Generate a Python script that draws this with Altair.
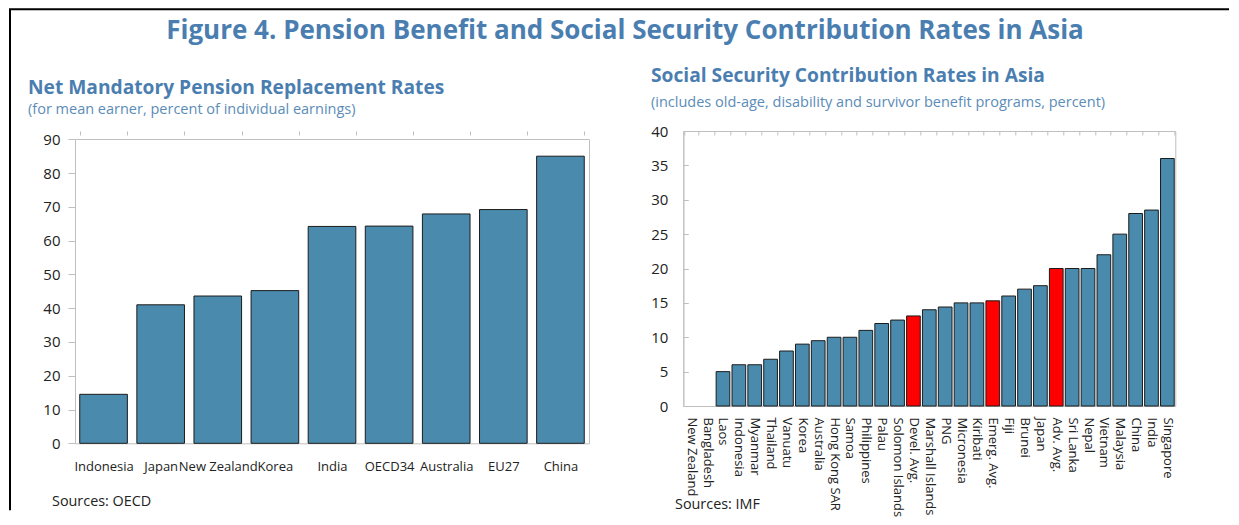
import altair as alt
import pandas as pd

# ---------------- data ----------------
pension_countries = ["Indonesia", "Japan", "New Zealand", "Korea", "India",
                     "OECD34", "Australia", "EU27", "China"]
pension_rates = [14.5, 41.0, 43.6, 45.2, 64.2, 64.3, 67.9, 69.2, 85.0]
pension_ticks = [0, 10, 20, 30, 40, 50, 60, 70, 80, 90]

ss_countries = ["New Zealand", "Bangladesh", "Laos", "Indonesia", "Myanmar",
                "Thailand", "Vanuatu", "Korea", "Australia", "Hong Kong SAR",
                "Samoa", "Philippines", "Palau", "Solomon Islands", "Devel. Avg.",
                "Marshall Islands", "PNG", "Micronesia", "Kiribati", "Emerg. Avg.",
                "Fiji", "Brunei", "Japan", "Adv. Avg.", "Sri Lanka", "Nepal",
                "Vietnam", "Malaysia", "China", "India", "Singapore"]
ss_rates = [0, 0, 5, 6, 6, 6.8, 8, 9, 9.5, 10, 10, 11, 12, 12.5, 13.1,
            14, 14.4, 15, 15, 15.3, 16, 17, 17.5, 20, 20, 20, 22, 25, 28, 28.5, 36]
ss_averages = ["Devel. Avg.", "Emerg. Avg.", "Adv. Avg."]
ss_ticks = [0, 5, 10, 15, 20, 25, 30, 35, 40]

main_title = "Figure 4. Pension Benefit and Social Security Contribution Rates in Asia"
left_title = "Net Mandatory Pension Replacement Rates"
left_sub = "(for mean earner, percent of individual earnings)"
left_src = "Sources: OECD"
right_title = "Social Security Contribution Rates in Asia"
right_sub = "(includes old-age, disability and survivor benefit programs, percent)"
right_src = "Sources: IMF"

# ---------------- styles ----------------
FONT = "Open Sans"
BLUE = "#4A8BAD"
RED = "#FF0000"
EDGE = "#1C1C1C"
GRAY = "#BFBFBF"
TBLUE = "#4A7EB0"
SBLUE = "#5B8CB8"
LABEL = "#222222"

LW, LH, LTOP = 514, 312.3, 8.3
RW, RH = 492, 275

one = alt.Data(values=[{}])


def text_layer(txt, x, y, size, color, weight="normal", align="left"):
    return alt.Chart(one).mark_text(
        text=txt, align=align, baseline="middle", fontSize=size, font=FONT,
        fontWeight=weight, color=color
    ).encode(x=alt.value(x), y=alt.value(y))


# ---------------- left panel ----------------
left_df = pd.DataFrame({"country": pension_countries, "rate": pension_rates})

lx = alt.X(
    "country:N", sort=pension_countries,
    scale=alt.Scale(domain=pension_countries, paddingInner=0.166, paddingOuter=0.083),
    axis=alt.Axis(title=None, labelAngle=0, labelFontSize=13, labelPadding=17,
                  labelOverlap=False, ticks=False, tickSize=0, domainColor=GRAY,
                  grid=True, tickBand="extent", gridColor=GRAY, gridDash=[4, 2000]),
)
ly = alt.Y(
    "rate:Q",
    scale=alt.Scale(domain=[0, 90], range=[LH, LTOP], nice=False),
    axis=alt.Axis(title=None, values=pension_ticks, tickSize=7, tickColor=GRAY,
                  domainColor=GRAY, labelFontSize=15, labelPadding=8, grid=True,
                  gridColor=GRAY,
                  gridOpacity={"condition": {"test": "datum.value === 90", "value": 1},
                               "value": 0}),
)
left_bars = alt.Chart(left_df).mark_bar(fill=BLUE, stroke=EDGE, strokeWidth=1).encode(x=lx, y=ly)
left_edge = alt.Chart(left_df).mark_point(opacity=0).encode(
    y=alt.Y("rate:Q", axis=alt.Axis(orient="right", title=None, labels=False, ticks=False,
                                     domainColor=GRAY, grid=False))
)

frame_left = alt.Chart(one).mark_rule(color="black", strokeWidth=2).encode(
    x=alt.value(-65), y=alt.value(-121.7), y2=alt.value(379.3))
frame_top = alt.Chart(one).mark_rule(color="black", strokeWidth=2).encode(
    x=alt.value(-66), x2=alt.value(1154), y=alt.value(-121.7))

left = alt.layer(
    left_bars, left_edge,
    text_layer(main_title, 550, -99.7, 26, TBLUE, "bold", "center"),
    text_layer(left_title, -47, -43, 19.2, TBLUE, "bold"),
    text_layer(left_sub, -47, -20.7, 14.5, SBLUE),
    text_layer(left_src, -23, 371.3, 14.4, LABEL),
    frame_left, frame_top,
).resolve_axis(y="independent").properties(
    width=LW, height=LH, view=alt.ViewBackground(strokeOpacity=0))

# ---------------- right panel ----------------
right_df = pd.DataFrame({
    "country": ss_countries,
    "rate": ss_rates,
    "kind": ["Average" if c in ss_averages else "Country" for c in ss_countries],
})

rx = alt.X(
    "country:N", sort=ss_countries,
    scale=alt.Scale(domain=ss_countries, paddingInner=0.137, paddingOuter=0.0685),
    axis=alt.Axis(title=None, labelAngle=90, labelAlign="left", labelBaseline="middle",
                  labelFontSize=13, labelPadding=11, labelOverlap=False, ticks=False,
                  tickSize=0, domainColor=GRAY, grid=True, tickBand="extent",
                  gridColor=GRAY, gridDash=[4, 2000]),
)
ry = alt.Y(
    "rate:Q",
    scale=alt.Scale(domain=[0, 40], nice=False),
    axis=alt.Axis(title=None, values=ss_ticks, ticks=False, tickSize=0, labelPadding=15.5,
                  labelFontSize=15, domainColor=GRAY, grid=True, gridColor=GRAY,
                  gridDash=[5, 2000]),
)
right_bars = alt.Chart(right_df).transform_filter("datum.rate > 0").mark_bar(
    stroke=EDGE, strokeWidth=1
).encode(
    x=rx, y=ry,
    color=alt.Color("kind:N", scale=alt.Scale(domain=["Country", "Average"], range=[BLUE, RED]),
                    legend=None),
)

right = alt.layer(
    right_bars,
    text_layer(right_title, -32.3, -55, 19.2, TBLUE, "bold"),
    text_layer(right_sub, -32.3, -28.4, 14.5, SBLUE),
    text_layer(right_src, -8.3, 374.3, 14.4, LABEL),
).properties(width=RW, height=RH)

chart = alt.hconcat(left, right, spacing=94.3, bounds="flush").properties(
    padding={"left": 0, "top": 0, "right": 0, "bottom": 0}
).configure_view(stroke=GRAY).configure_axis(labelFont=FONT, labelColor=LABEL)

chart.save("out.html", embed_options={"renderer": "svg", "actions": False})
